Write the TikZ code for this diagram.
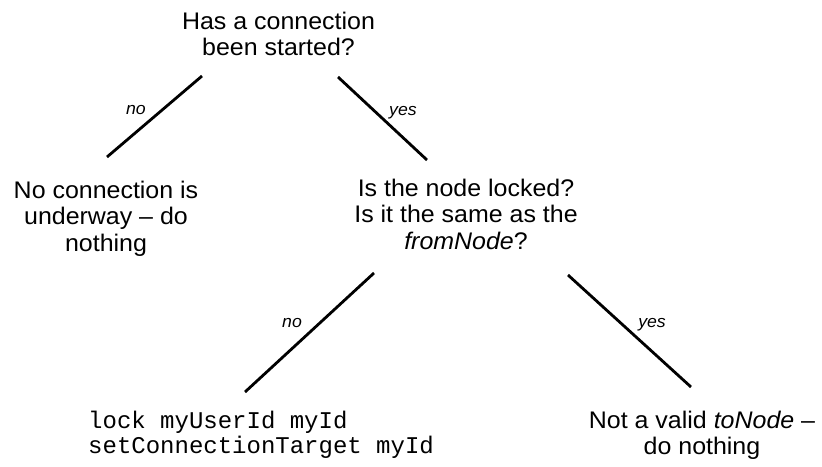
\documentclass[tikz,border=0pt]{standalone}
\usepackage{fontspec}
\setmainfont{Liberation Sans}[FakeStretch=1.04]
\setmonofont{Liberation Mono}
\usetikzlibrary{calc}
% stacked lines whose baseline is the first line's baseline
\newcommand\textlines[2][c]{\begin{tabular}[t]{@{}#1@{}}#2\end{tabular}}
\begin{document}
\begin{tikzpicture}[x=1pt,y=-1pt,
  question/.style={anchor=base, inner sep=0pt, font=\fontsize{24}{26.5}\selectfont},
  codeblock/.style={anchor=base west, inner sep=0pt, font=\fontsize{24}{25.5}\selectfont\ttfamily},
  answer/.style={anchor=base, inner sep=0pt, font=\fontsize{17}{20}\selectfont\itshape},
  branch/.style={line width=2.8pt}]
\useasboundingbox (0,0) rectangle (822,466);

% decisions and outcomes
\node[question] (start) at (278.5,29) {\textlines{Has a connection\\been started?}};
\node[question] (idle) at (106,198) {\textlines{No connection is\\underway – do\\nothing}};
\node[question] (locked) at (466,196) {\textlines{Is the node locked?\\Is it the same as the\\\textit{fromNode}?}};
\node[codeblock] (lock) at (88,428) {\textlines[l]{lock myUserId myId\\setConnectionTarget myId}};
\node[question] (invalid) at (702,428) {\textlines{Not a valid \textit{toNode} –\\do nothing}};

% branch ends
\coordinate (s-no)   at ($(start.base)+(-76.5,47)$);
\coordinate (s-yes)  at ($(start.base)+(59.5,48)$);
\coordinate (i-top)  at ($(idle.base)+(1,-41)$);
\coordinate (l-top)  at ($(locked.base)+(-39,-36)$);
\coordinate (l-no)   at ($(locked.base)+(-92,77)$);
\coordinate (l-yes)  at ($(locked.base)+(102,79)$);
\coordinate (k-top)  at ($(lock.base west)+(157,-36)$);
\coordinate (v-top)  at ($(invalid.base)+(-11,-41)$);

% branches
\draw[branch] (s-no) -- (i-top);
\draw[branch] (s-yes) -- (l-top);
\draw[branch] (l-no) -- (k-top);
\draw[branch] (l-yes) -- (v-top);

% branch labels
\node[answer] (a1) at (136,114) {no};
\node[answer] (a2) at (403,115) {yes};
\node[answer] (a3) at (292,327) {no};
\node[answer] (a4) at (652,327) {yes};
\end{tikzpicture}
\end{document}
